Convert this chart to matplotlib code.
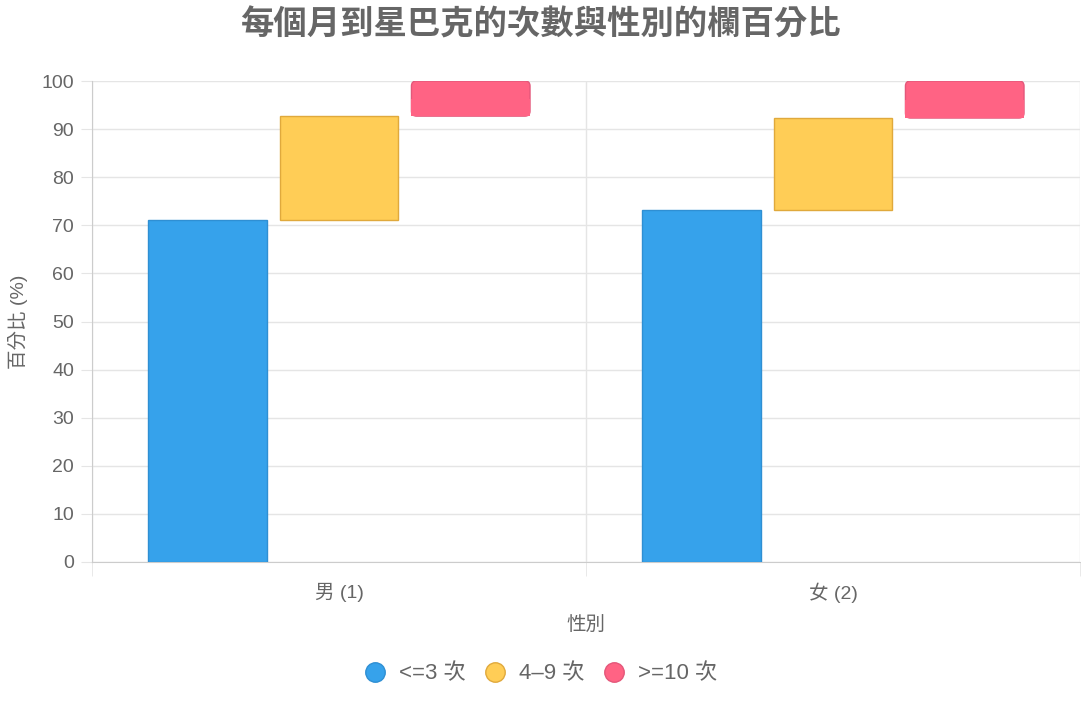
import numpy as np
import matplotlib
matplotlib.use('Agg')
import matplotlib.pyplot as plt
from matplotlib.patches import FancyBboxPatch, Rectangle
from matplotlib.lines import Line2D

plt.rcParams['font.family'] = ['Liberation Sans', 'Noto Sans CJK TC', 'DejaVu Sans']

# === Data ===
categories = ["男 (1)", "女 (2)"]
series_names = ["<=3 次", "4–9 次", ">=10 次"]
low_visits = [71.0, 73.2]     # <=3 次
mid_visits = [21.7, 19.1]     # 4–9 次
high_visits = [7.3, 7.7]      # >=10 次

face_colors = ["#36A2EB", "#FFCD56", "#FF6384"]
edge_colors = ["#2f8fd3", "#e0a93c", "#e4577a"]
text_gray = "#666666"
grid_gray = "#e5e5e5"

fig = plt.figure(figsize=(10.81, 7.02), dpi=100)
ax = fig.add_axes([92 / 1081, 140 / 702, 988 / 1081, 481 / 702])

x = np.arange(len(categories))
slot = 0.8 / 3
width = slot * 0.9
offsets = [-slot, 0, slot]

# floating segments: each one starts where the previous ended
starts = [np.zeros(len(x)), np.array(low_visits), np.array(low_visits) + np.array(mid_visits)]
heights = [np.array(low_visits), np.array(mid_visits), np.array(high_visits)]

for i in range(3):
    if i < 2:
        ax.bar(x + offsets[i], heights[i], width=width, bottom=starts[i],
               color=face_colors[i], edgecolor=edge_colors[i], linewidth=1, zorder=3)
    else:
        # rounded top corners for the last segment
        rx = 5 / 494
        ry = 5 / 4.81
        for xi, b, h in zip(x + offsets[i], starts[i], heights[i]):
            p = FancyBboxPatch((xi - width / 2, b), width, h,
                               boxstyle=f"round,pad=0,rounding_size={rx}",
                               mutation_aspect=ry / rx,
                               facecolor=face_colors[i], edgecolor=edge_colors[i],
                               linewidth=1, zorder=3)
            ax.add_patch(p)
            ax.add_patch(Rectangle((xi - width / 2, b), width, h / 2,
                                   facecolor=face_colors[i], edgecolor="none", zorder=3.5))

ax.set_xlim(-0.5, len(categories) - 0.5)
ax.set_ylim(0, 100)
ax.set_yticks(np.arange(0, 101, 10))
ax.set_xticks(x)
ax.set_xticklabels(categories)
ax.set_xticks(np.arange(-0.5, len(categories), 1), minor=True)

ax.grid(axis='y', color=grid_gray, linewidth=1, zorder=0)
ax.grid(axis='x', which='minor', color=grid_gray, linewidth=1, zorder=0)
ax.tick_params(axis='y', length=8, color=grid_gray, labelsize=14, labelcolor=text_gray, pad=5)
ax.tick_params(axis='x', which='major', length=0, labelsize=14, labelcolor=text_gray, pad=15)
ax.tick_params(axis='x', which='minor', length=10, color=grid_gray)

for s in ['top', 'right']:
    ax.spines[s].set_visible(False)
for s in ['left', 'bottom']:
    ax.spines[s].set_color("#cccccc")

ax.set_xlabel("性別", fontsize=14, color=text_gray, va='center')
ax.xaxis.set_label_coords(0.5, (562 - 625) / 481)
ax.set_ylabel("百分比 (%)", fontsize=14, color=text_gray, va='center')
ax.yaxis.set_label_coords((18 - 92) / 988, 0.5)

fig.text(0.5, 1 - 25 / 702, "每個月到星巴克的次數與性別的欄百分比", ha='center', va='center',
         fontsize=24, fontweight='bold', color=text_gray)

handles = [Line2D([0], [0], marker='o', linestyle='none', markersize=14,
                  markerfacecolor=face_colors[i], markeredgecolor=edge_colors[i])
           for i in range(3)]
fig.legend(handles, series_names, loc='center', bbox_to_anchor=(0.5, 1 - 674 / 702),
           ncol=3, frameon=False, fontsize=16, labelcolor=text_gray,
           handletextpad=0.6, columnspacing=0.8, handlelength=1.0)

fig.savefig("out.png", dpi=100)
